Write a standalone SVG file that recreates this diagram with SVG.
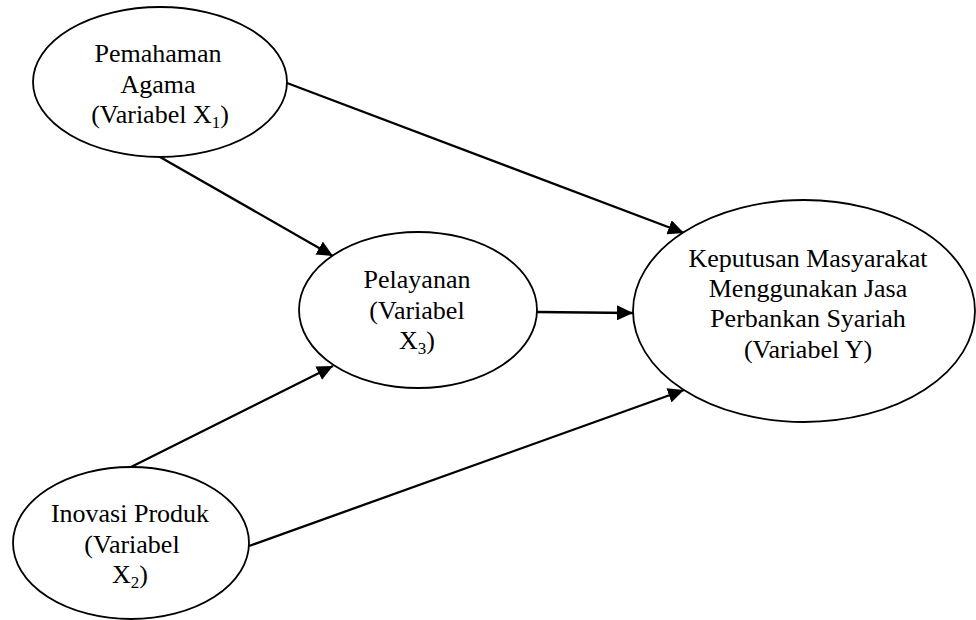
<svg xmlns="http://www.w3.org/2000/svg" width="976" height="620" viewBox="0 0 976 620">
<defs>
<style>
.node{fill:#fff;stroke:#000;stroke-width:1.8}
.lbl{font-family:"Liberation Serif","Times New Roman",serif;font-size:26px;fill:#000;text-anchor:middle}
.sub{font-size:17px}
.edge{stroke:#000;stroke-width:2.3;fill:none;marker-end:url(#arr)}
</style>
<marker id="arr" markerUnits="userSpaceOnUse" markerWidth="17" markerHeight="15" refX="16" refY="7.5" orient="auto">
<path d="M0,0 L16,7.5 L0,15 z" fill="#000"/>
</marker>
</defs>
<rect width="976" height="620" fill="#fff"/>
<g id="connectors">
<line class="edge" x1="287" y1="83" x2="684" y2="233"/>
<line class="edge" x1="160" y1="157" x2="333" y2="256"/>
<line class="edge" x1="537" y1="312" x2="633" y2="313"/>
<line class="edge" x1="131" y1="467" x2="333" y2="366"/>
<line class="edge" x1="249" y1="546" x2="684" y2="390"/>
</g>
<g id="x1">
<ellipse class="node" cx="160" cy="82" rx="127" ry="75"/>
<text class="lbl" x="158" y="62">Pemahaman</text>
<text class="lbl" x="158" y="93">Agama</text>
<text class="lbl" x="160" y="123">(Variabel X<tspan class="sub" dy="5">1</tspan><tspan dy="-5">)</tspan></text>
</g>
<g id="x3">
<ellipse class="node" cx="418" cy="310" rx="119" ry="78"/>
<text class="lbl" x="417" y="288">Pelayanan</text>
<text class="lbl" x="417" y="319">(Variabel</text>
<text class="lbl" x="417" y="349">X<tspan class="sub" dy="5">3</tspan><tspan dy="-5">)</tspan></text>
</g>
<g id="y">
<ellipse class="node" cx="804" cy="311" rx="171" ry="111"/>
<text class="lbl" x="808" y="267">Keputusan Masyarakat</text>
<text class="lbl" x="808" y="297">Menggunakan Jasa</text>
<text class="lbl" x="808" y="327">Perbankan Syariah</text>
<text class="lbl" x="808" y="358">(Variabel Y)</text>
</g>
<g id="x2">
<ellipse class="node" cx="131" cy="543" rx="118" ry="76"/>
<text class="lbl" x="130" y="522">Inovasi Produk</text>
<text class="lbl" x="132" y="553">(Variabel</text>
<text class="lbl" x="130" y="583">X<tspan class="sub" dy="5">2</tspan><tspan dy="-5">)</tspan></text>
</g>
</svg>
